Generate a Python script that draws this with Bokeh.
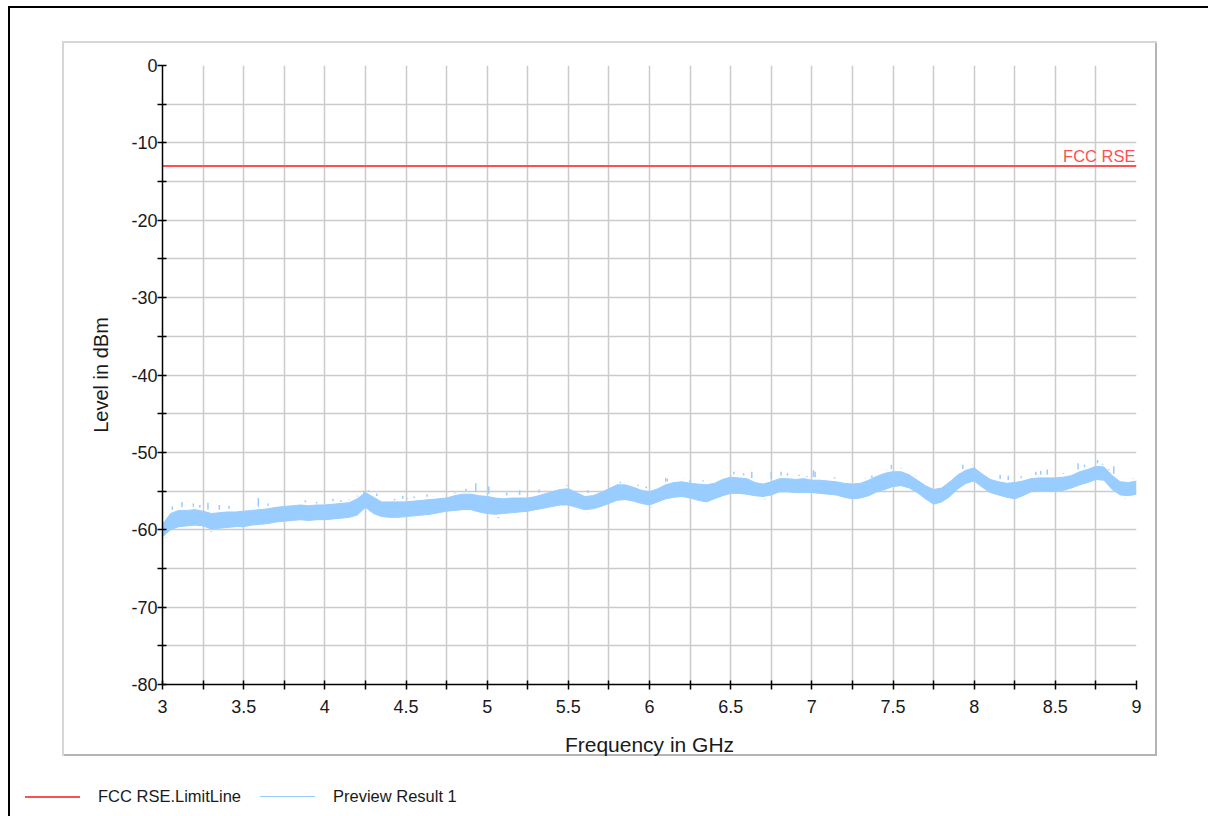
import numpy as np
from bokeh.plotting import figure
from bokeh.layouts import column
from bokeh.models import Label, FixedTicker, Range1d, Div, InlineStyleSheet
from bokeh.embed import file_html
from bokeh.resources import INLINE

# ---------------- data ----------------
freq = [3.00, 3.05, 3.10, 3.15, 3.20, 3.25, 3.30, 3.35, 3.40, 3.45,
        3.50, 3.55, 3.60, 3.65, 3.70, 3.75, 3.80, 3.85, 3.90, 3.95,
        4.00, 4.05, 4.10, 4.15, 4.20, 4.25, 4.30, 4.35, 4.40, 4.45,
        4.50, 4.55, 4.60, 4.65, 4.70, 4.75, 4.80, 4.85, 4.90, 4.95,
        5.00, 5.05, 5.10, 5.15, 5.20, 5.25, 5.30, 5.35, 5.40, 5.45,
        5.50, 5.55, 5.60, 5.65, 5.70, 5.75, 5.80, 5.85, 5.90, 5.95,
        6.00, 6.05, 6.10, 6.15, 6.20, 6.25, 6.30, 6.35, 6.40, 6.45,
        6.50, 6.55, 6.60, 6.65, 6.70, 6.75, 6.80, 6.85, 6.90, 6.95,
        7.00, 7.05, 7.10, 7.15, 7.20, 7.25, 7.30, 7.35, 7.40, 7.45,
        7.50, 7.55, 7.60, 7.65, 7.70, 7.75, 7.80, 7.85, 7.90, 7.95,
        8.00, 8.05, 8.10, 8.15, 8.20, 8.25, 8.30, 8.35, 8.40, 8.45,
        8.50, 8.55, 8.60, 8.65, 8.70, 8.75, 8.80, 8.85, 8.90, 8.95,
        9.00]

preview_upper = [-59.3, -57.9, -57.5, -57.5, -57.4, -57.6, -57.9, -57.8, -57.7, -57.7,
                 -57.6, -57.5, -57.4, -57.3, -57.1, -57.0, -56.9, -56.8, -56.9, -56.8,
                 -56.8, -56.7, -56.6, -56.5, -56.0, -55.2, -55.8, -56.4, -56.4, -56.4,
                 -56.4, -56.3, -56.2, -56.1, -56.0, -55.9, -55.6, -55.4, -55.4, -55.6,
                 -55.7, -55.9, -56.0, -55.9, -55.9, -55.9, -55.7, -55.4, -55.1, -54.8,
                 -54.7, -55.2, -55.7, -55.6, -55.2, -54.7, -54.2, -54.2, -54.5, -54.9,
                 -55.1, -54.7, -54.2, -53.9, -53.8, -54.0, -54.1, -54.2, -54.0, -53.5,
                 -53.2, -53.3, -53.4, -53.9, -54.1, -53.8, -53.4, -53.4, -53.5, -53.4,
                 -53.6, -53.6, -53.7, -53.8, -54.0, -54.1, -54.0, -53.6, -53.1, -52.7,
                 -52.5, -52.5, -52.9, -53.6, -54.3, -54.8, -54.6, -53.8, -52.9, -52.3,
                 -52.0, -52.8, -53.5, -53.8, -54.0, -53.9, -53.7, -53.4, -53.3, -53.3,
                 -53.3, -53.2, -53.0, -52.5, -52.2, -51.8, -51.9, -53.0, -53.8, -53.9,
                 -53.7]

preview_lower = [-60.9, -60.0, -59.6, -59.5, -59.4, -59.5, -59.9, -59.8, -59.7, -59.6,
                 -59.6, -59.4, -59.3, -59.2, -59.0, -58.9, -58.8, -58.7, -58.8, -58.7,
                 -58.7, -58.6, -58.5, -58.4, -58.1, -57.1, -57.9, -58.3, -58.4, -58.4,
                 -58.3, -58.2, -58.1, -58.0, -57.8, -57.6, -57.5, -57.4, -57.4, -57.7,
                 -57.9, -58.0, -57.9, -57.8, -57.7, -57.6, -57.4, -57.2, -57.0, -56.8,
                 -56.8, -57.1, -57.4, -57.3, -57.0, -56.6, -56.2, -56.1, -56.3, -56.6,
                 -56.8, -56.4, -56.0, -55.8, -55.7, -55.9, -56.2, -56.4, -56.0, -55.6,
                 -55.3, -55.3, -55.4, -55.6, -55.7, -55.5, -55.1, -55.1, -55.2, -55.2,
                 -55.2, -55.3, -55.4, -55.5, -55.8, -56.0, -55.9, -55.6, -55.1, -54.8,
                 -54.4, -54.3, -54.6, -55.2, -56.0, -56.7, -56.4, -55.7, -54.7, -54.0,
                 -53.7, -54.5, -55.2, -55.5, -55.8, -56.0, -55.6, -55.1, -55.0, -55.0,
                 -55.0, -54.9, -54.6, -54.2, -53.9, -53.5, -53.6, -54.8, -55.5, -55.6,
                 -55.4]

spike_freq = [3.06, 3.12, 3.19, 3.23, 3.28, 3.35, 3.41, 3.59, 3.65, 3.88,
              3.95, 4.05, 4.10, 4.15, 4.20, 4.24, 4.27, 4.32, 4.43, 4.48,
              4.51, 4.55, 4.63, 4.67, 4.73, 4.80, 4.87, 4.93, 5.01, 5.12,
              5.20, 5.32, 5.37, 5.49, 5.62, 5.69, 5.82, 5.84, 5.93, 5.98,
              6.10, 6.11, 6.21, 6.25, 6.33, 6.48, 6.52, 6.58, 6.63, 6.75,
              6.81, 6.85, 6.92, 6.97, 7.01, 7.02, 7.14, 7.33, 7.37, 7.46,
              7.49, 7.55, 7.59, 7.64, 7.93, 7.99, 8.04, 8.16, 8.21, 8.29,
              8.38, 8.41, 8.45, 8.55, 8.64, 8.68, 8.76, 8.79, 8.83, 8.86,
              8.98]
spike_top = [-57.0, -56.4, -56.6, -56.8, -56.5, -56.8, -56.9, -55.9, -56.6, -56.2,
             -56.6, -56.0, -56.4, -56.2, -55.7, -55.5, -54.9, -55.3, -56.2, -55.6,
             -55.9, -55.7, -55.4, -55.7, -55.5, -55.3, -54.7, -54.0, -54.4, -55.2,
             -54.9, -54.8, -54.9, -54.2, -54.9, -54.9, -54.0, -53.8, -54.2, -54.4,
             -53.3, -53.4, -53.4, -54.0, -53.6, -52.9, -52.5, -52.7, -52.5, -52.5,
             -52.5, -52.7, -52.9, -53.2, -52.3, -52.5, -53.2, -53.3, -53.3, -52.2,
             -51.6, -52.0, -52.4, -53.0, -51.6, -51.6, -52.2, -52.9, -53.0, -53.1,
             -52.5, -52.4, -52.2, -52.7, -51.4, -51.6, -51.0, -51.6, -52.3, -51.8,
             -53.3]

dip_freq = [3.02, 3.30, 3.47, 4.52, 5.07, 5.62, 6.01, 6.71, 7.26, 7.77, 8.26, 8.93]
dip_bottom = [-61.0, -60.2, -60.0, -58.7, -58.5, -57.8, -57.2, -56.0, -56.4, -57.0,
              -56.3, -55.9]

limit_freq = [3.0, 9.0]
limit_level = [-13.0, -13.0]

x_tick_values = [3.0, 3.25, 3.5, 3.75, 4.0, 4.25, 4.5, 4.75, 5.0, 5.25, 5.5, 5.75,
                 6.0, 6.25, 6.5, 6.75, 7.0, 7.25, 7.5, 7.75, 8.0, 8.25, 8.5, 8.75, 9.0]
x_tick_labels = ["3", "", "3.5", "", "4", "", "4.5", "", "5", "", "5.5", "",
                 "6", "", "6.5", "", "7", "", "7.5", "", "8", "", "8.5", "", "9"]
y_tick_values = [0, -5, -10, -15, -20, -25, -30, -35, -40, -45, -50, -55, -60,
                 -65, -70, -75, -80]
y_tick_labels = ["0", "", "-10", "", "-20", "", "-30", "", "-40", "", "-50", "",
                 "-60", "", "-70", "", "-80"]

series_names = ["FCC RSE.LimitLine", "Preview Result 1"]

# ---------------- styling ----------------
FONT = "Liberation Sans"
RED = "#ff5050"
BLUE = "#99ccff"
GRID = "#cbcbcb"
TXT = "#1a1a1a"

p = figure(width=1095, height=720, output_backend="svg", toolbar_location=None,
           x_range=Range1d(3, 9), y_range=Range1d(-80, 0),
           min_border_left=100, min_border_right=21,
           min_border_top=24, min_border_bottom=77,
           margin=(41, 0, 0, 62),
           styles={"background-color": "#ffffff",
                   "box-shadow": "inset 0 -5px 0 0 #ffffff, inset 2px 2px 0 0 #d6d6d6, "
                                 "inset -2px -7px 0 0 #b4b4b4"})
p.outline_line_color = None
p.background_fill_color = "white"
p.border_fill_color = None

for ax in (p.xaxis[0], p.yaxis[0]):
    ax.axis_line_color = "black"
    ax.axis_line_width = 1.5
    ax.major_tick_line_color = "black"
    ax.major_tick_line_width = 1.5
    ax.major_tick_in = 4
    ax.major_tick_out = 5
    ax.minor_tick_line_color = None
    ax.major_label_text_font = FONT
    ax.major_label_text_font_size = "18px"
    ax.major_label_text_color = TXT
    ax.axis_label_text_font = FONT
    ax.axis_label_text_font_style = "normal"
    ax.axis_label_text_color = TXT

p.xaxis.ticker = FixedTicker(ticks=x_tick_values)
p.xaxis.major_label_overrides = {v: l for v, l in zip(x_tick_values, x_tick_labels)}
p.yaxis.ticker = FixedTicker(ticks=y_tick_values)
p.yaxis.major_label_overrides = {v: l for v, l in zip(y_tick_values, y_tick_labels)}
p.xaxis.axis_label = "Frequency in GHz"
p.yaxis.axis_label = "Level in dBm"
p.xaxis.axis_label_text_font_size = "21px"
p.yaxis.axis_label_text_font_size = "20px"
p.xaxis.major_label_standoff = 10
p.yaxis.major_label_standoff = 0
p.xaxis.axis_label_standoff = 17
p.yaxis.axis_label_standoff = 16

p.xgrid.grid_line_color = GRID
p.ygrid.grid_line_color = GRID
p.xgrid.grid_line_width = 1.5
p.ygrid.grid_line_width = 1.5

# measured trace (envelope of the noisy sweep) + visible spikes
p.varea(x=freq, y1=preview_lower, y2=preview_upper, fill_color=BLUE, fill_alpha=1.0)
p.line(freq, preview_upper, line_color=BLUE, line_width=1)
p.line(freq, preview_lower, line_color=BLUE, line_width=1)
spike_base = np.interp(spike_freq, freq, preview_upper) + 0.4
p.segment(x0=spike_freq, y0=spike_top, x1=spike_freq, y1=spike_base,
          line_color=BLUE, line_width=1.5)
dip_base = np.interp(dip_freq, freq, preview_lower) - 0.4
p.segment(x0=dip_freq, y0=dip_bottom, x1=dip_freq, y1=dip_base,
          line_color=BLUE, line_width=1.5)

p.line(limit_freq, limit_level, line_color=RED, line_width=2)

p.add_layout(Label(x=9, y=-13, text="FCC RSE", text_align="right",
                   text_baseline="bottom", x_offset=-1, y_offset=1,
                   text_font=FONT, text_font_size="16.5px", text_color=RED))

# legend strip below the chart box
legend_html = (
    f'<div style="position:relative;width:1208px;height:55px;'
    f'font-family:\'{FONT}\';font-size:16.5px;color:{TXT};line-height:19px;">'
    f'<div style="position:absolute;left:25px;top:35px;width:55px;height:0;'
    f'border-top:2px solid {RED};"></div>'
    f'<span style="position:absolute;left:98px;top:26px;white-space:nowrap;">{series_names[0]}</span>'
    f'<div style="position:absolute;left:260px;top:35px;width:55px;height:0;'
    f'border-top:1px solid {BLUE};"></div>'
    f'<span style="position:absolute;left:333px;top:26px;white-space:nowrap;">{series_names[1]}</span>'
    f'</div>'
)
lg = Div(text=legend_html, width=1208, height=55, margin=(0, 0, 0, 0))

frame_css = InlineStyleSheet(css=(
    ":host { background-color: #ffffff; }"
    ":host::before { content: ''; position: absolute; left: 8px; top: 6px; "
    "width: 1300px; height: 900px; border-top: 2px solid #000000; "
    "border-left: 2px solid #000000; pointer-events: none; box-sizing: border-box; }"
))
root = column(p, lg, spacing=0, stylesheets=[frame_css])

open("out.html", "w").write(file_html(root, INLINE))
